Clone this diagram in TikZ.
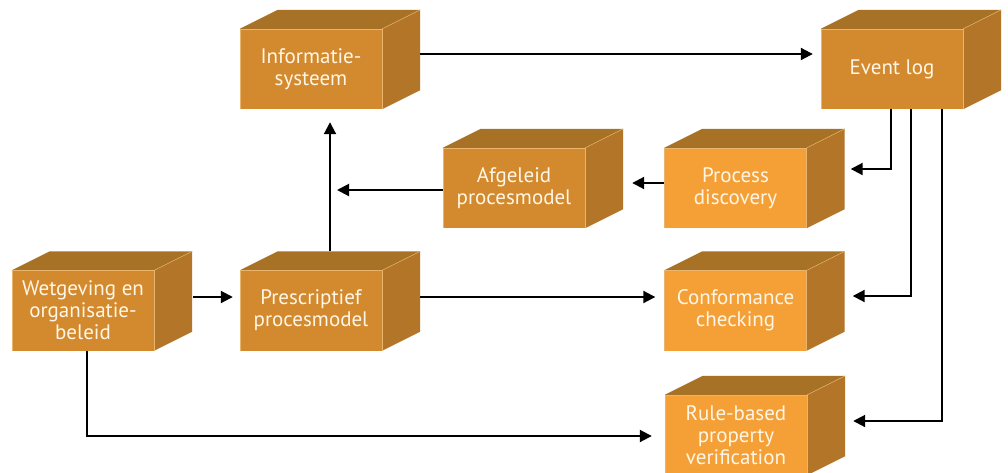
\documentclass[tikz,border=0pt]{standalone}
\usepackage{fontspec}
\setmainfont{PT Sans}
\usetikzlibrary{arrows.meta}
\definecolor{frontA}{HTML}{D38A2F}
\definecolor{frontB}{HTML}{F4A037}
\definecolor{topc}{HTML}{A87226}
\definecolor{sidec}{HTML}{B37628}
\definecolor{edgec}{HTML}{E9B46E}
\definecolor{textc}{HTML}{FFF6E6}
\newcommand\cubefaces[1]{%
  \fill[topc] (#1.north west) -- ++(38,19) -- ([shift={(38,19)}]#1.north east) -- (#1.north east) -- cycle;
  \fill[sidec] (#1.north east) -- ++(38,19) -- ([shift={(38,19)}]#1.south east) -- (#1.south east) -- cycle;
  \draw[edgec,line width=0.6pt] (#1.south west) -- (#1.north west) -- (#1.north east) -- (#1.south east);
  \draw[edgec,line width=0.4pt] (#1.north east) -- ++(38,19);
}
\tikzset{
  x=1pt,y=1pt,
  cube/.style={minimum width=142pt, minimum height=80pt, inner sep=0pt, align=center,
    text=textc, font=\fontsize{21}{22}\selectfont},
  cubeA/.style={cube, fill=frontA},
  cubeB/.style={cube, fill=frontB},
  arr/.style={line width=2pt, -{Triangle[length=12pt,width=12pt]}},
}
\begin{document}
\begin{tikzpicture}
\useasboundingbox (0,0) rectangle (1008,-472);
\fill[white] (0,0) rectangle (1008,-472);
% boxes
\node[cubeA] (info) at (311,-69) {Informatie-\\systeem};
\node[cubeA] (event) at (892,-69) {Event log};
\node[cubeA] (afg) at (514,-188) {Afgeleid\\procesmodel};
\node[cubeB] (disc) at (735.5,-188) {Process\\discovery};
\node[cubeA] (wet) at (83,-310.5) {Wetgeving en\\organisatie-\\beleid};
\node[cubeA] (presc) at (311,-310.5) {Prescriptief\\procesmodel};
\node[cubeB] (conf) at (735.5,-310.5) {Conformance\\checking};
\node[cubeB] (rule) at (736,-435) {Rule-based\\property\\verification};
\foreach \n in {info,event,afg,disc,wet,presc,conf,rule} {\cubefaces{\n}}
% connectors
\draw[arr] ([xshift=38pt,yshift=15pt]info.east) -- ([xshift=-8pt,yshift=15pt]event.west);
\draw[arr] ([xshift=-1pt]event.south) |- ([xshift=44pt,yshift=19pt]disc.east);
\draw[arr] ([xshift=19pt]event.south) |- ([xshift=46pt,yshift=14.5pt]conf.east);
\draw[arr] ([xshift=50pt]event.south) |- ([xshift=46pt,yshift=14pt]rule.east);
\draw[arr] ([yshift=5pt]disc.west) -- ([xshift=47pt,yshift=5pt]afg.east);
\draw[arr] ([xshift=19pt,yshift=19pt]presc.north) -- ([xshift=19pt,yshift=-13pt]info.south);
\coordinate (afgout) at ([yshift=-2pt]afg.west);
\coordinate (vline) at ([xshift=26pt]presc.north);
\draw[arr] (afgout) -- (vline |- afgout);
\draw[arr] ([xshift=39pt,yshift=13.5pt]wet.east) -- ([xshift=-7pt,yshift=13.5pt]presc.west);
\draw[arr] ([xshift=38pt,yshift=13.5pt]presc.east) -- ([xshift=-9pt,yshift=13.5pt]conf.west);
\draw[arr] ([xshift=4pt]wet.south) |- ([xshift=-13pt,yshift=-1pt]rule.west);
\end{tikzpicture}
\end{document}
